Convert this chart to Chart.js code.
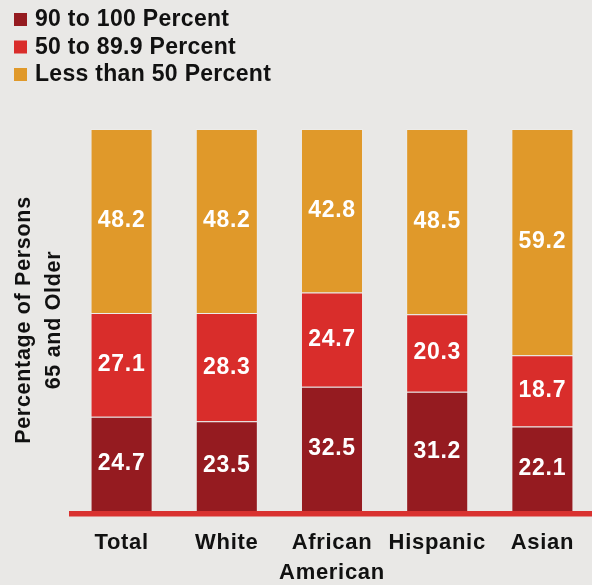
<!DOCTYPE html>
<html lang="en">
<head>
<meta charset="utf-8">
<title>Percentage of Persons 65 and Older</title>
<script src="https://cdn.jsdelivr.net/npm/chart.js@4.4.1/dist/chart.umd.min.js"></script>
<style>
  html, body { margin: 0; padding: 0; background: #e9e8e6; overflow: hidden; }
  #contenedor { position: relative; width: 595px; height: 585px; }
</style>
</head>
<body>
<div id="contenedor"><canvas id="grafica"></canvas></div>
<script>
// Datos por grupo (porcentaje de personas de 65 años o más)
const categorias = ['Total', 'White', ['African', 'American'], 'Hispanic', 'Asian'];
const noventaACien = [24.7, 23.5, 32.5, 31.2, 22.1];
const cincuentaAOchenta = [27.1, 28.3, 24.7, 20.3, 18.7];
const menosDeCincuenta = [48.2, 48.2, 42.8, 48.5, 59.2];
const nombresSeries = ['90 to 100 Percent', '50 to 89.9 Percent', 'Less than 50 Percent'];
const tituloEjeY = ['Percentage of Persons', '65 and Older'];
const maxEjeY = 100;

const coloresSeries = ['#951b20', '#d92d2b', '#e0992a'];
const colorTexto = '#111111';
const colorLineaBase = '#d93230';
const fuente = '"Liberation Sans", Arial, Helvetica, sans-serif';
const espaciado = '0.7px';

// Espaciado de letras para todo el texto del canvas
const espaciadoPlugin = {
  id: 'espaciadoLetras',
  beforeDraw(chart) {
    chart.ctx.letterSpacing = espaciado;
  }
};

// Leyenda vertical arriba a la izquierda
const leyendaPlugin = {
  id: 'leyendaVertical',
  afterDraw(chart) {
    const { ctx } = chart;
    ctx.save();
    ctx.letterSpacing = '0.3px';
    ctx.font = `bold 23px ${fuente}`;
    ctx.textAlign = 'left';
    ctx.textBaseline = 'alphabetic';
    chart.data.datasets.forEach((ds, i) => {
      const base = 26 + i * 27.5;
      ctx.fillStyle = ds.backgroundColor;
      ctx.fillRect(14, base - 13, 13, 13);
      ctx.fillStyle = colorTexto;
      ctx.fillText(ds.label, 35, base);
    });
    ctx.restore();
  }
};

// Valores en blanco centrados en cada segmento
const etiquetasPlugin = {
  id: 'etiquetasValores',
  afterDatasetsDraw(chart) {
    const { ctx } = chart;
    ctx.save();
    ctx.letterSpacing = espaciado;
    ctx.font = `bold 23px ${fuente}`;
    ctx.fillStyle = '#ffffff';
    ctx.textAlign = 'center';
    ctx.textBaseline = 'middle';
    chart.data.datasets.forEach((ds, i) => {
      chart.getDatasetMeta(i).data.forEach((barra, j) => {
        const { x, y, base } = barra.getProps(['x', 'y', 'base'], true);
        ctx.fillText(ds.data[j].toFixed(1), x, (y + base) / 2);
      });
    });
    ctx.restore();
  }
};

// Línea roja bajo las barras
const lineaBasePlugin = {
  id: 'lineaBase',
  afterDatasetsDraw(chart) {
    const { ctx, chartArea } = chart;
    ctx.save();
    ctx.fillStyle = colorLineaBase;
    ctx.fillRect(chartArea.left, chartArea.bottom, chartArea.right - chartArea.left, 5.5);
    ctx.restore();
  }
};

const series = [noventaACien, cincuentaAOchenta, menosDeCincuenta];

new Chart(document.querySelector('#grafica'), {
  type: 'bar',
  data: {
    labels: categorias,
    datasets: series.map((valores, i) => ({
      label: nombresSeries[i],
      data: valores,
      backgroundColor: coloresSeries[i],
      borderColor: 'rgba(255, 255, 255, 0.18)',
      borderWidth: 1,
      barPercentage: 0.59,
      categoryPercentage: 1
    }))
  },
  options: {
    responsive: true,
    maintainAspectRatio: false,
    animation: false,
    layout: { padding: { top: 129, left: 0, right: 0, bottom: 0 } },
    plugins: {
      legend: { display: false },
      tooltip: { enabled: false }
    },
    scales: {
      x: {
        stacked: true,
        grid: { display: false, drawTicks: false },
        border: { display: false },
        ticks: {
          color: colorTexto,
          padding: 17,
          maxRotation: 0,
          minRotation: 0,
          autoSkip: false,
          font: { family: fuente, size: 22, weight: 'bold', lineHeight: 1.36 }
        },
        afterFit: (scale) => { scale.height = 74; }
      },
      y: {
        stacked: true,
        min: 0,
        max: maxEjeY,
        grid: { display: false, drawTicks: false },
        border: { display: false },
        ticks: { display: false },
        title: {
          display: true,
          text: tituloEjeY,
          color: colorTexto,
          padding: { top: 9, bottom: 0 },
          font: { family: fuente, size: 21.5, weight: 'bold', lineHeight: 1.39 }
        },
        afterFit: (scale) => { scale.width = 69; }
      }
    }
  },
  plugins: [espaciadoPlugin, lineaBasePlugin, etiquetasPlugin, leyendaPlugin]
});
</script>
</body>
</html>
